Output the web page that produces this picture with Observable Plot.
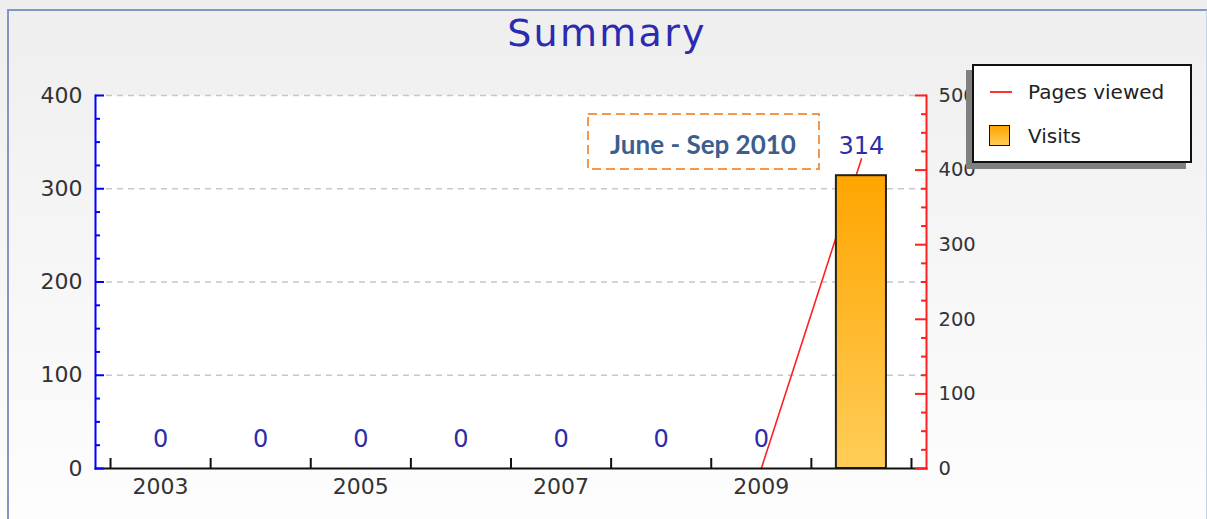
<!DOCTYPE html>
<html>
<head>
<meta charset="utf-8">
<script src="https://cdn.jsdelivr.net/npm/d3@7"></script>
<script src="https://cdn.jsdelivr.net/npm/@observablehq/plot@0.6"></script>
<style>
  html, body { margin: 0; padding: 0; }
  body { width: 1207px; height: 519px; overflow: hidden; position: relative;
         background: linear-gradient(to bottom, #eeeeee 0%, #f6f6f6 50%, #fdfdfd 100%);
         font-family: "DejaVu Sans", sans-serif; }
  #frameBorder { position: absolute; left: 7px; top: 9px; width: 1197px; height: 520px;
                 border-left: 2px solid #7f97c2; border-top: 2px solid #7f97c2; border-right: 2px solid #c9d2e3; }
  #title { position: absolute; left: 0; top: 14px; width: 1214px; text-align: center;
           font-size: 38px; line-height: 1; letter-spacing: 2.3px; color: #2b2bb2; }
  #chart { position: absolute; left: 0; top: 0; }
  #legend { position: absolute; left: 972px; top: 64px; width: 216px; height: 95px;
            background: #fff; border: 2px solid #111; box-shadow: -6px 6px 0 #808080; }
  .lg-item { position: absolute; left: 54px; font-size: 20px; color: #222; line-height: 1; }
  #lgLine { position: absolute; left: 16px; top: 25px; width: 22px; height: 2px; background: #ff3030; }
  #lgBox { position: absolute; left: 15px; top: 59px; width: 19px; height: 19px;
           border: 1.5px solid #111; background: linear-gradient(to bottom, #ffa500, #ffcc55); }
  #annot { position: absolute; left: 587px; top: 113px; }
</style>
</head>
<body>
<div id="frameBorder"></div>
<div id="chart"></div>
<div id="title">Summary</div>
<svg id="annot" width="235" height="60"></svg>
<div id="legend">
  <div id="lgLine"></div>
  <div class="lg-item" style="top:16px">Pages viewed</div>
  <div id="lgBox"></div>
  <div class="lg-item" style="top:60px">Visits</div>
</div>
<script>
// ---- data ----
const years = [2003, 2004, 2005, 2006, 2007, 2008, 2009, 2010];
const visits = [0, 0, 0, 0, 0, 0, 0, 314];
const pagesViewed = [null, null, null, null, null, null, 0, 415];
const leftTicks = [0, 100, 200, 300, 400];
const leftMinorTicks = [25, 50, 75, 125, 150, 175, 225, 250, 275, 325, 350, 375];
const rightTicks = [0, 100, 200, 300, 400, 500];
const rightMinorTicks = [25, 50, 75, 125, 150, 175, 225, 250, 275, 325, 350, 375, 425, 450, 475];
const yearLabels = [2003, 2005, 2007, 2009];
const gridTicks = [100, 200, 300, 400];
const annotationText = "June - Sep 2010";

// right axis (0-500) mapped onto left axis units (0-400)
const leftMax = 400, rightMax = 500;
const toLeft = v => v * leftMax / rightMax;

const rows = years.map((year, i) => ({year, visits: visits[i], pages: pagesViewed[i]}));
const boundaries = years.map(y => y - 0.5).concat([years[years.length - 1] + 0.5]);

const gradientDefs = () => {
  const defs = d3.create("svg:defs");
  const g = defs.append("linearGradient").attr("id", "barGrad")
    .attr("x1", 0).attr("y1", 0).attr("x2", 0).attr("y2", 1);
  g.append("stop").attr("offset", "0%").attr("stop-color", "#ffa500");
  g.append("stop").attr("offset", "100%").attr("stop-color", "#ffcd58");
  return defs.node();
};

const chart = Plot.plot({
  width: 1207,
  height: 519,
  marginLeft: 95,
  marginRight: 281,
  marginTop: 95,
  marginBottom: 51,
  style: {background: "transparent", fontFamily: "DejaVu Sans", color: "#333", overflow: "visible"},
  x: {type: "linear", domain: [2002.35, 2010.65], axis: null},
  y: {domain: [0, leftMax], axis: null},
  marks: [
    Plot.frame({fill: "white", stroke: "none"}),
    gradientDefs,
    Plot.gridY(gridTicks, {stroke: "#c8c8c8", strokeOpacity: 1, strokeWidth: 1.5, strokeDasharray: "6,5"}),
    Plot.line(rows, {x: "year", y: d => d.pages == null ? NaN : toLeft(d.pages), stroke: "#ff2020", strokeWidth: 1.6}),
    Plot.rectY(rows.filter(d => d.visits > 0), {x1: d => d.year - 0.25, x2: d => d.year + 0.25, y: "visits",
      fill: "url(#barGrad)", stroke: "#222", strokeWidth: 2}),
    Plot.text(rows, {x: "year", y: "visits", text: d => String(d.visits), dy: -29,
      fontSize: 24, fill: "#2d2da8"}),
    Plot.frame({anchor: "bottom", stroke: "#111", strokeWidth: 2}),
    Plot.frame({anchor: "left", stroke: "#0000ff", strokeWidth: 2}),
    Plot.frame({anchor: "right", stroke: "#ff2020", strokeWidth: 2}),
    // x ticks (inward) at band boundaries
    Plot.axisX({anchor: "bottom", ticks: boundaries, tickSize: 10, insetBottom: 10, fill: "none",
      stroke: "#111", strokeWidth: 2}),
    Plot.axisX({anchor: "bottom", ticks: yearLabels, tickSize: 0, tickPadding: 10, tickFormat: d => String(d),
      fontSize: 22, fill: "#333", label: null}),
    // left axis
    Plot.axisY({anchor: "left", ticks: leftTicks, tickSize: 9, insetLeft: 9, fill: "none", stroke: "#0000ff", strokeWidth: 2}),
    Plot.axisY({anchor: "left", ticks: leftMinorTicks, tickSize: 5, insetLeft: 5, fill: "none", stroke: "#0000ff", strokeWidth: 2}),
    Plot.axisY({anchor: "left", ticks: leftTicks, tickSize: 0, tickPadding: 13, fontSize: 22, fill: "#333", label: null}),
    // right axis
    Plot.axisY({anchor: "right", ticks: rightTicks.map(toLeft), tickSize: 12, insetRight: 12, fill: "none", stroke: "#ff2020", strokeWidth: 2}),
    Plot.axisY({anchor: "right", ticks: rightMinorTicks.map(toLeft), tickSize: 6, insetRight: 6, fill: "none", stroke: "#ff2020", strokeWidth: 2}),
    Plot.axisY({anchor: "right", ticks: rightTicks.map(toLeft), tickSize: 0, tickPadding: 12,
      tickFormat: d => String(Math.round(d * rightMax / leftMax)), fontSize: 19.5, fill: "#333", label: null})
  ]
});
document.getElementById("chart").appendChild(chart);

// annotation box
const an = d3.select("#annot");
an.append("rect").attr("x", 1).attr("y", 1).attr("width", 231).attr("height", 55)
  .attr("fill", "none").attr("stroke", "#f79646").attr("stroke-width", 2).attr("stroke-dasharray", "9,5");
an.append("text").attr("x", 116).attr("y", 31).attr("text-anchor", "middle").attr("dominant-baseline", "central")
  .attr("font-family", "Lato").attr("font-weight", "bold").attr("font-size", 26).attr("fill", "#3b5e8e")
  .text(annotationText);
</script>
</body>
</html>
